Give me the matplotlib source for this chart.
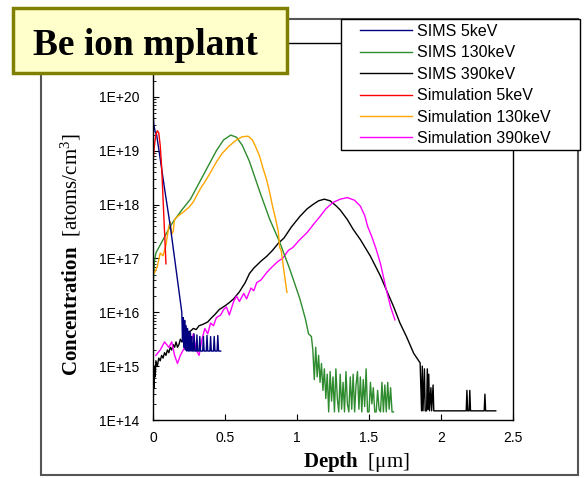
import numpy as np
import matplotlib
matplotlib.use('Agg')
import matplotlib.pyplot as plt
from matplotlib.patches import Rectangle
from matplotlib.ticker import LogLocator, FixedLocator, FuncFormatter, NullFormatter

plt.rcParams['font.family'] = ['Liberation Sans', 'DejaVu Sans']
plt.rcParams['mathtext.fontset'] = 'custom'
plt.rcParams['mathtext.rm'] = 'Liberation Serif'
plt.rcParams['mathtext.it'] = 'Liberation Serif:italic'
plt.rcParams['mathtext.bf'] = 'Liberation Serif:bold'

# depth in um, concentration as log10(atoms/cm3)
sims5_depth = [0.0, 0.005, 0.015, 0.025, 0.05, 0.08, 0.10, 0.12, 0.14, 0.16, 0.18, 0.20,
               0.205, 0.21, 0.215, 0.22, 0.225, 0.23, 0.235, 0.24, 0.245, 0.25, 0.255, 0.26,
               0.265, 0.27, 0.275, 0.28, 0.285, 0.29, 0.30, 0.305, 0.31, 0.32, 0.325, 0.33,
               0.345, 0.35, 0.355, 0.37, 0.375, 0.38, 0.395, 0.40, 0.405, 0.42, 0.425, 0.43,
               0.445, 0.45, 0.455, 0.47]
sims5_log = [19.8, 19.5, 19.35, 19.3, 18.85, 18.3, 17.95, 17.6, 17.2, 16.8, 16.4, 16.0,
             15.45, 15.9, 15.35, 15.85, 15.3, 15.75, 15.28, 15.7, 15.28, 15.65, 15.28, 15.62,
             15.28, 15.55, 15.28, 15.28, 15.6, 15.28, 15.28, 15.58, 15.28, 15.28, 15.55, 15.28,
             15.28, 15.55, 15.28, 15.28, 15.57, 15.28, 15.28, 15.55, 15.28, 15.28, 15.55, 15.28,
             15.28, 15.57, 15.28, 15.28]

sims130_depth = [0.0, 0.01, 0.02, 0.06, 0.10, 0.14, 0.20, 0.26, 0.32, 0.38, 0.44, 0.49,
                 0.54, 0.58, 0.62, 0.67, 0.74, 0.81, 0.88, 0.95, 1.02, 1.06, 1.08, 1.10,
                 1.11, 1.12, 1.13, 1.14, 1.15, 1.16, 1.17, 1.18, 1.19, 1.20, 1.21, 1.22,
                 1.23, 1.24, 1.25, 1.26, 1.27, 1.28, 1.29, 1.30, 1.31, 1.32, 1.33, 1.34,
                 1.35, 1.36, 1.37, 1.38, 1.39, 1.40, 1.41, 1.42, 1.43, 1.44, 1.45, 1.46,
                 1.47, 1.48, 1.49, 1.50, 1.51, 1.52, 1.53, 1.54, 1.55, 1.56, 1.57, 1.58,
                 1.59, 1.60, 1.61, 1.62, 1.63, 1.64, 1.65, 1.66, 1.67]
sims130_log = [16.45, 16.95, 17.1, 17.3, 17.5, 17.68, 17.9, 18.1, 18.4, 18.7, 19.0, 19.2,
               19.29, 19.25, 19.1, 18.8, 18.25, 17.73, 17.3, 16.8, 16.25, 15.86, 15.6, 15.55,
               15.30, 14.75, 15.35, 14.80, 15.20, 14.70, 15.05, 14.55, 14.95, 14.40, 14.85, 14.15,
               14.90, 14.35, 14.80, 14.15, 14.95, 14.40, 14.15, 14.85, 14.20, 14.70, 14.15, 14.90,
               14.30, 14.15, 14.80, 14.20, 14.85, 14.15, 14.65, 14.90, 14.20, 14.80, 14.15, 14.75,
               14.25, 14.95, 14.15, 14.15, 14.70, 14.30, 14.60, 14.15, 14.15, 14.55, 14.20, 14.15,
               14.70, 14.15, 14.65, 14.15, 14.70, 14.20, 14.60, 14.15, 14.15]

sims390_depth = [0.0, 0.003, 0.005, 0.008, 0.01, 0.015, 0.02, 0.03, 0.04, 0.05, 0.06, 0.07,
                 0.08, 0.09, 0.10, 0.11, 0.12, 0.13, 0.14, 0.15, 0.16, 0.17, 0.18, 0.19,
                 0.20, 0.22, 0.24, 0.26, 0.28, 0.30, 0.32, 0.35, 0.38, 0.40, 0.43, 0.46,
                 0.50, 0.53, 0.56, 0.60, 0.64, 0.67, 0.70, 0.75, 0.79, 0.83, 0.87, 0.91,
                 0.96, 1.02, 1.07, 1.11, 1.15, 1.19, 1.23, 1.27, 1.30, 1.35, 1.39, 1.44,
                 1.51, 1.58, 1.62, 1.67, 1.715, 1.76, 1.81, 1.855, 1.865, 1.87, 1.875, 1.885,
                 1.89, 1.90, 1.905, 1.91, 1.915, 1.92, 1.93, 1.935, 1.945, 1.95, 1.96, 2.175,
                 2.18, 2.185, 2.195, 2.20, 2.205, 2.30, 2.305, 2.31, 2.38]
sims390_log = [14.0, 14.5, 14.9, 14.6, 15.0, 14.8, 15.1, 15.0, 15.15, 15.1, 15.2, 15.15,
               15.25, 15.2, 15.3, 15.25, 15.35, 15.3, 15.4, 15.35, 15.45, 15.35, 15.4, 15.5,
               15.45, 15.55, 15.6, 15.65, 15.7, 15.68, 15.75, 15.78, 15.82, 15.88, 15.96, 16.05,
               16.12, 16.18, 16.25, 16.38, 16.55, 16.72, 16.82, 16.95, 17.04, 17.15, 17.28, 17.38,
               17.58, 17.78, 17.92, 18.0, 18.07, 18.1, 18.07, 17.98, 17.9, 17.72, 17.54, 17.35,
               17.04, 16.67, 16.42, 16.11, 15.8, 15.55, 15.24, 15.06, 14.17, 15.0, 14.17, 14.95,
               14.17, 14.17, 14.95, 14.2, 14.85, 14.17, 14.6, 14.17, 14.65, 14.17, 14.17, 14.17,
               14.55, 14.17, 14.17, 14.55, 14.17, 14.17, 14.48, 14.17, 14.17]

sim5_depth = [0.0, 0.01, 0.02, 0.03, 0.04, 0.05, 0.06, 0.07, 0.08, 0.09]
sim5_log = [18.8, 19.1, 19.3, 19.37, 19.33, 19.1, 18.7, 18.1, 17.5, 16.9]

sim130_depth = [0.01, 0.03, 0.05, 0.07, 0.09, 0.11, 0.12, 0.13, 0.14, 0.15, 0.18, 0.21,
                0.25, 0.28, 0.30, 0.33, 0.36, 0.40, 0.44, 0.48, 0.53, 0.58, 0.62, 0.66,
                0.69, 0.71, 0.74, 0.76, 0.79, 0.81, 0.83, 0.85, 0.87, 0.88, 0.89, 0.905, 0.93]
sim130_log = [16.73, 16.85, 17.1, 17.05, 17.25, 17.6, 17.68, 17.45, 17.5, 17.73, 17.8, 17.86,
              17.95, 18.05, 18.15, 18.3, 18.42, 18.6, 18.79, 18.95, 19.09, 19.2, 19.26, 19.27,
              19.2, 19.09, 18.9, 18.71, 18.45, 18.23, 17.97, 17.75, 17.5, 17.2, 17.15, 16.85, 16.37]

sim390_depth = [0.02, 0.05, 0.08, 0.11, 0.13, 0.15, 0.17, 0.19, 0.22, 0.24, 0.26, 0.28,
                0.30, 0.32, 0.34, 0.36, 0.38, 0.40, 0.42, 0.44, 0.47, 0.49, 0.51, 0.53,
                0.56, 0.58, 0.60, 0.63, 0.65, 0.68, 0.70, 0.72, 0.75, 0.79, 0.83, 0.87,
                0.90, 0.94, 0.97, 1.02, 1.07, 1.12, 1.16, 1.20, 1.25, 1.30, 1.35, 1.40,
                1.44, 1.47, 1.49, 1.52, 1.55, 1.58, 1.62, 1.65, 1.68]
sim390_log = [15.2, 15.3, 15.45, 15.35, 15.45, 15.2, 15.05, 15.2, 15.35, 15.5, 15.4, 15.6,
              15.3, 15.2, 15.5, 15.7, 15.6, 15.8, 15.75, 15.9, 15.95, 16.05, 16.1, 15.95,
              16.2, 16.3, 16.2, 16.35, 16.25, 16.45, 16.4, 16.55, 16.6, 16.74, 16.85, 16.95,
              17.0, 17.15, 17.2, 17.35, 17.48, 17.65, 17.78, 17.92, 18.04, 18.1, 18.13, 18.08,
              17.97, 17.8, 17.6, 17.4, 17.17, 16.9, 16.42, 16.1, 15.86]

x_ticks = [0, 0.5, 1, 1.5, 2, 2.5]
x_ticklabels = ['0', '0.5', '1', '1.5', '2', '2.5']
y_ticks = [1e14, 1e15, 1e16, 1e17, 1e18, 1e19, 1e20, 1e21]
legend_labels = ['SIMS 5keV', 'SIMS 130keV', 'SIMS 390keV',
                 'Simulation 5keV', 'Simulation 130keV', 'Simulation 390keV']

W, H = 586, 478


def fx(px):
    return px / W


def fy(py):
    return 1 - py / H


def exp_label(v, pos):
    e = round(np.log10(v))
    if e > 20:  # sits under the title box
        return ''
    return '1E+%d' % e


fig = plt.figure(figsize=(5.86, 4.78), dpi=100)

# slide frame around the chart
fig.add_artist(Rectangle((fx(41), fy(475)), fx(578) - fx(41), fy(19) - fy(475),
                         transform=fig.transFigure, fill=False, ec='#555555', lw=1.5, zorder=-1))

ax = fig.add_axes([fx(153), fy(420), fx(513) - fx(153), fy(43) - fy(420)])

l_sims390, = ax.plot(sims390_depth, 10 ** np.array(sims390_log), color='black', lw=1.0)
l_sim390, = ax.plot(sim390_depth, 10 ** np.array(sim390_log), color='#ff00ff', lw=1.0)
l_sims130, = ax.plot(sims130_depth, 10 ** np.array(sims130_log), color='#2e8b2e', lw=1.0)
l_sim130, = ax.plot(sim130_depth, 10 ** np.array(sim130_log), color='#ffa500', lw=1.0)
l_sims5, = ax.plot(sims5_depth, 10 ** np.array(sims5_log), color='#000080', lw=1.0)
l_sim5, = ax.plot(sim5_depth, 10 ** np.array(sim5_log), color='#ff0000', lw=1.0)

ax.set_yscale('log')
ax.set_ylim(1e14, 1e21)
ax.set_xlim(0, 2.5)
ax.yaxis.set_major_locator(FixedLocator(y_ticks))
ax.yaxis.set_minor_locator(LogLocator(base=10, subs=np.arange(2, 10), numticks=20))
ax.yaxis.set_major_formatter(FuncFormatter(exp_label))
ax.yaxis.set_minor_formatter(NullFormatter())
ax.set_xticks(x_ticks)
ax.set_xticklabels(x_ticklabels)
ax.tick_params(which='major', direction='in', length=4, width=0.8, labelsize=10)
ax.tick_params(which='minor', direction='in', length=2.5, width=0.6)
ax.tick_params(axis='y', pad=10)
ax.tick_params(axis='x', pad=8)
for s in ax.spines.values():
    s.set_linewidth(1.0)

# legend box: white frame drawn by hand, entries from the legend
ax.add_patch(Rectangle((fx(341), fy(150)), fx(580) - fx(341), fy(19) - fy(150),
                       transform=fig.transFigure, fc='white', ec='black', lw=1.0,
                       clip_on=False, zorder=4.5))
leg = ax.legend([l_sims5, l_sims130, l_sims390, l_sim5, l_sim130, l_sim390], legend_labels,
                loc='upper left', bbox_to_anchor=(fx(360), fy(24)),
                bbox_transform=fig.transFigure, fontsize=11.5, frameon=False,
                handlelength=3.25, handletextpad=0.33, labelspacing=0.4,
                borderaxespad=0, borderpad=0)
leg.set_zorder(5)

# title box
fig.add_artist(Rectangle((fx(13), fy(73)), fx(287) - fx(13), fy(8) - fy(73),
                         transform=fig.transFigure, fc='#ffffcc', ec='#808000', lw=2.5, zorder=5))
fig.text(fx(145), fy(55), 'Be ion mplant', family='Liberation Serif', weight='bold',
         fontsize=27, ha='center', va='baseline', zorder=6)

fig.text(fx(71), fy(255), r'$\mathbf{Concentration}$  [atoms/cm$^3$]', family='Liberation Serif',
         fontsize=15, rotation=90, ha='center', va='center')
fig.text(fx(356), fy(462), r'$\mathbf{Depth}$  [μm]', family='Liberation Serif',
         fontsize=15, ha='center', va='center')

fig.savefig('out.png', dpi=100)
